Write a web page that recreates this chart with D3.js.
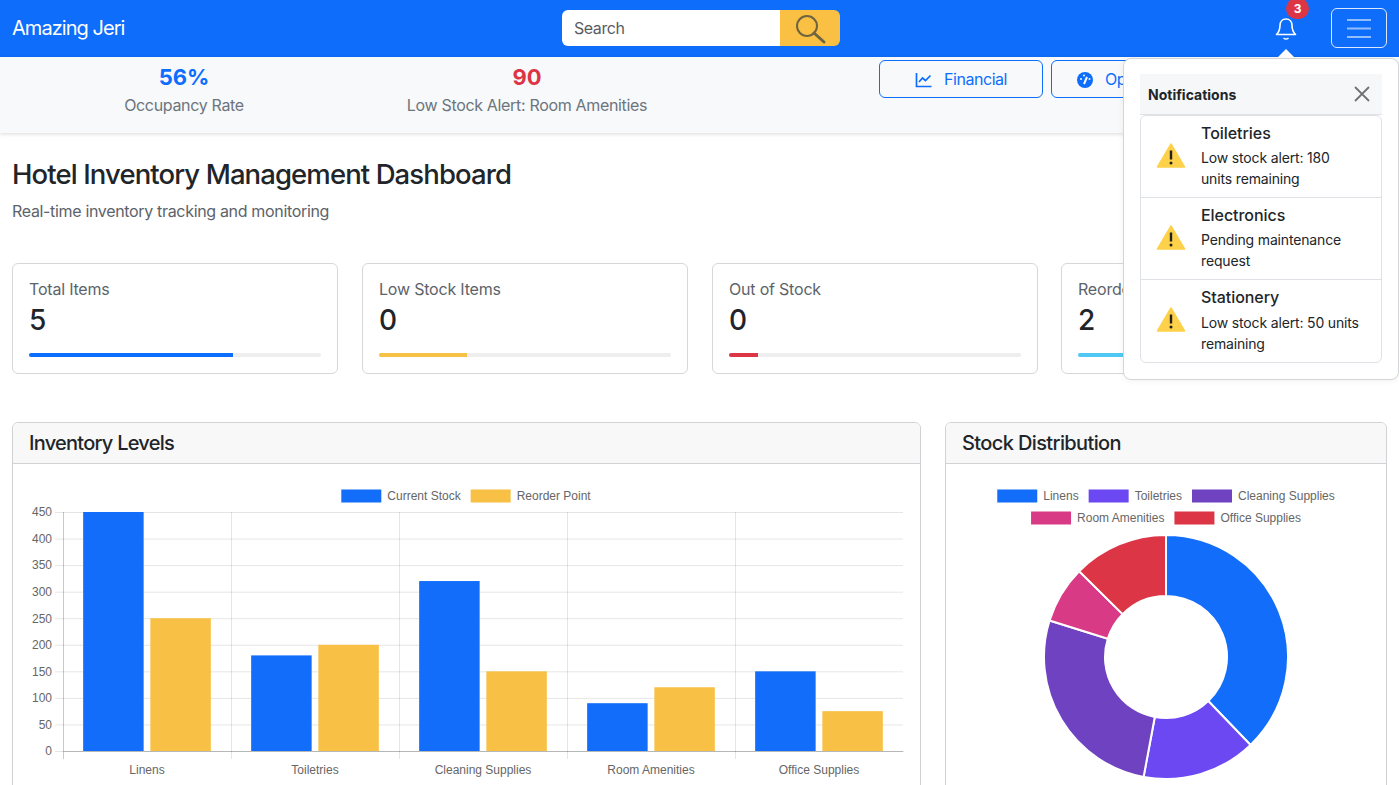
<!DOCTYPE html>
<html>
<head>
<meta charset="utf-8">
<title>Hotel Inventory Management Dashboard</title>
<script src="https://cdn.jsdelivr.net/npm/d3@7"></script>
<style>
* { box-sizing: border-box; }
html, body { margin: 0; height: 100%; overflow: hidden; background: #fff; }
body { font-family: Inter, "Noto Sans", sans-serif; color: #212529; position: relative; width: 1399px; height: 785px; }
.abs { position: absolute; }
#nav { left: 0; top: 0; width: 1399px; height: 57px; background: #0f6dfb; }
#brand { left: 12px; top: 16px; font-size: 20px; line-height: 24px; color: #fff; letter-spacing: -0.95px; }
#search { left: 562px; top: 10px; width: 218px; height: 36px; background: #fff; border-radius: 6px 0 0 6px; padding: 6px 12px; font-size: 16px; line-height: 24px; color: #595c5f; letter-spacing: -0.45px; }
#searchBtn { left: 780px; top: 10px; width: 60px; height: 36px; background: #f9c043; border-radius: 0 6px 6px 0; }
#badge { left: 1286px; top: -2px; width: 23px; height: 21px; border-radius: 11px; background: #dc3545; color: #fff; font-size: 12px; font-weight: 700; text-align: center; line-height: 21px; }
#burger { left: 1331px; top: 8px; width: 56px; height: 40px; border: 1px solid rgba(255,255,255,.85); border-radius: 6px; }
#sub { left: 0; top: 57px; width: 1399px; height: 76px; background: #f8f9fa; box-shadow: 0 1px 4px rgba(0,0,0,.15); }
.stat { width: 340px; text-align: center; }
.stat .v { font-size: 22px; font-weight: 700; line-height: 26px; }
.stat .l { font-size: 16px; line-height: 24px; color: #6c757d; margin-top: 3px; letter-spacing: -0.33px; }
.btn { top: 60px; height: 38px; border: 1px solid #0d6efd; border-radius: 6px; color: #0d6efd; font-size: 16px; line-height: 36px; background: transparent; white-space: nowrap; letter-spacing: -0.45px; }
h1 { margin: 0; left: 12px; top: 157px; font-size: 27.5px; line-height: 34px; font-weight: 500; letter-spacing: -0.9px; }
#tag { left: 12px; top: 199px; font-size: 16px; line-height: 24px; color: #5c636a; letter-spacing: -0.33px; }
.card { top: 263px; width: 326px; height: 111px; border: 1px solid #d5d7da; border-radius: 6px; background: #fff; }
.card .t { position: absolute; left: 16px; top: 13px; font-size: 16px; line-height: 24px; color: #5c636a; white-space: nowrap; letter-spacing: -0.2px; }
.card .n { position: absolute; left: 16px; top: 39px; font-size: 28px; line-height: 34px; font-weight: 500; }
.card .track { position: absolute; left: 16px; top: 89px; width: 292px; height: 4px; border-radius: 2px; background: #eeeeee; overflow: hidden; }
.card .fill { height: 100%; }
.panel { top: 422px; height: 400px; border: 1px solid #d0d2d5; border-radius: 6px; background: #fff; overflow: hidden; }
.panel .hd { height: 41px; background: #f8f8f8; border-bottom: 1px solid #d0d2d5; padding: 0 16px; font-size: 20px; line-height: 40px; font-weight: 500; letter-spacing: -0.62px; }
#charts { left: 0; top: 0; width: 1399px; height: 785px; pointer-events: none; }
#pop { left: 1123px; top: 58px; width: 276px; height: 322px; background: #fff; border: 1px solid #d3d5d8; border-radius: 8px; box-shadow: 0 1px 6px rgba(0,0,0,.06); }
#popHd { left: 16px; top: 15px; width: 242px; height: 41px; background: #f6f7f8; border-bottom: 1px solid #e0e2e5; padding-left: 8px; font-size: 14px; font-weight: 700; line-height: 41px; }
#list { left: 16px; top: 56px; width: 242px; height: 248px; border: 1px solid #dee2e6; border-radius: 6px; }
.item { position: relative; height: 82px; border-bottom: 1px solid #dee2e6; }
.item:last-child { border-bottom: 0; }
.item .t { position: absolute; left: 60px; top: 5px; font-size: 16px; line-height: 24px; font-weight: 500; white-space: nowrap; letter-spacing: -0.05px; }
.item .m { position: absolute; left: 60px; top: 31px; width: 160px; font-size: 14px; line-height: 21px; letter-spacing: -0.16px; }
.item:last-child .m { top: 32px; }
.item svg { position: absolute; left: 15px; top: 26px; }
</style>
</head>
<body>
<div id="root"></div>
<script>
var categories = ['Linens', 'Toiletries', 'Cleaning Supplies', 'Room Amenities', 'Office Supplies']
var currentStock = [450, 180, 320, 90, 150]
var reorderPoint = [250, 200, 150, 120, 75]
var barSeries = ['Current Stock', 'Reorder Point']
var barColors = ['#116dfa', '#f8c045']
var donutColors = ['#116dfa', '#6b48f2', '#6f42c1', '#d83a85', '#dc3545']
var yTicks = [0, 50, 100, 150, 200, 250, 300, 350, 400, 450]

var cardTitles = ['Total Items', 'Low Stock Items', 'Out of Stock', 'Reorder Items']
var cardValues = [5, 0, 0, 2]
var cardProgress = [70, 30, 10, 30]
var cardColors = ['#0d6efd', '#f8c045', '#dc3545', '#4fc8f5']
var noteTitles = ['Toiletries', 'Electronics', 'Stationery']
var noteTexts = ['Low stock alert: 180 units remaining', 'Pending maintenance request', 'Low stock alert: 50 units remaining']

var root = d3.select('#root')

function box(parent, id, cls) {
    var d = parent.append('div').attr('class', 'abs ' + (cls || ''))
    if (id) d.attr('id', id)
    return d
}

// top bar
box(root, 'nav')
box(root, 'brand').text('Amazing Jeri')
box(root, 'search').text('Search')
var sb = box(root, 'searchBtn').append('svg').attr('width', 60).attr('height', 36)
sb.append('circle').attr('cx', 27).attr('cy', 16).attr('r', 10).attr('fill', 'none').attr('stroke', '#6f6440').attr('stroke-width', 2)
sb.append('line').attr('x1', 34).attr('y1', 23).attr('x2', 44).attr('y2', 32).attr('stroke', '#6f6440').attr('stroke-width', 3).attr('stroke-linecap', 'round')

var bell = root.append('svg').attr('class', 'abs').style('left', '1275px').style('top', '17px').attr('width', 22).attr('height', 24)
bell.append('path').attr('d', 'M11 2c-4 0-6 3-6 6.5 0 4-1 6.5-3.5 9h19c-2.500-2.500-3.500-5-3.500-9C17 5 15 2 11 2z').attr('fill', 'none').attr('stroke', '#fff').attr('stroke-width', 1.600).attr('stroke-linejoin', 'round')
bell.append('path').attr('d', 'M8.500 21c1.500 1.300 3.500 1.300 5 0').attr('fill', 'none').attr('stroke', '#fff').attr('stroke-width', 1.400)
box(root, 'badge').text('3')

var burger = box(root, 'burger').append('svg').attr('width', 54).attr('height', 38)
d3.range(3).forEach(function (i) {
    burger.append('line').attr('x1', 15).attr('x2', 39).attr('y1', 11 + i * 8.500).attr('y2', 11 + i * 8.500)
        .attr('stroke', 'rgba(255,255,255,.55)').attr('stroke-width', 2)
})

// sub bar
box(root, 'sub')
var stats = [['56%', 'Occupancy Rate', '#0d6efd', 14], ['90', 'Low Stock Alert: Room Amenities', '#dc3545', 357]]
stats.forEach(function (s) {
    var st = box(root, null, 'stat').style('left', s[3] + 'px').style('top', '64px')
    st.append('div').attr('class', 'v').style('color', s[2]).text(s[0])
    st.append('div').attr('class', 'l').text(s[1])
})
var b1 = box(root, null, 'btn').style('left', '879px').style('width', '164px')
b1.append('svg').attr('width', 18).attr('height', 16).style('position', 'absolute').style('left', '35px').style('top', '11px')
    .append('path').attr('d', 'M1.500 1v13.500h15M4 10l3.500-4 3 2.500 5-5').attr('fill', 'none').attr('stroke', '#0d6efd').attr('stroke-width', 1.700)
b1.append('span').style('position', 'absolute').style('left', '64px').text('Financial')
var b2 = box(root, null, 'btn').style('left', '1051px').style('width', '164px')
var g2 = b2.append('svg').attr('width', 18).attr('height', 18).style('position', 'absolute').style('left', '24px').style('top', '10px')
g2.append('circle').attr('cx', 9).attr('cy', 9).attr('r', 8).attr('fill', '#0d6efd')
g2.append('line').attr('x1', 8).attr('y1', 13).attr('x2', 11).attr('y2', 6).attr('stroke', '#f8f9fa').attr('stroke-width', 2)
g2.append('circle').attr('cx', 5).attr('cy', 8).attr('r', 1).attr('fill', '#f8f9fa')
g2.append('circle').attr('cx', 8).attr('cy', 4.500).attr('r', 1).attr('fill', '#f8f9fa')
g2.append('circle').attr('cx', 13.500).attr('cy', 8).attr('r', 1).attr('fill', '#f8f9fa')
b2.append('span').style('position', 'absolute').style('left', '53px').text('Operations')

// headings
root.append('h1').attr('class', 'abs').text('Hotel Inventory Management Dashboard')
box(root, 'tag').text('Real-time inventory tracking and monitoring')

// summary cards
var cardLeft = [12, 362, 712, 1061]
cardTitles.forEach(function (t, i) {
    var c = box(root, null, 'card').style('left', cardLeft[i] + 'px')
    c.append('div').attr('class', 't').text(t)
    c.append('div').attr('class', 'n').text(cardValues[i])
    c.append('div').attr('class', 'track').append('div').attr('class', 'fill')
        .style('width', cardProgress[i] + '%').style('background', cardColors[i])
})

// chart panels
box(root, null, 'panel').style('left', '12px').style('width', '909px').append('div').attr('class', 'hd').style('letter-spacing', '-0.75px').text('Inventory Levels')
box(root, null, 'panel').style('left', '945px').style('width', '442px').append('div').attr('class', 'hd').text('Stock Distribution')

var svg = root.append('svg').attr('id', 'charts').attr('class', 'abs').attr('width', 1399).attr('height', 785)
var labelFont = '"Liberation Sans", Arial, sans-serif'

function legend(rows, colors, startY) {
    // centered rows in the chart.js way: 40px swatch, 6px gap, label
    var k = 0
    rows.forEach(function (row, r) {
        var y = startY + r * 22
        var g = svg.append('g').attr('font-family', labelFont).attr('font-size', 12).attr('fill', '#666')
        var x = 0
        row.items.forEach(function (name) {
            var c = colors[k++]
            g.append('rect').attr('x', x).attr('y', y - 6.500).attr('width', 40).attr('height', 13).attr('fill', c)
            var tx = g.append('text').attr('x', x + 46).attr('y', y + 4).text(name)
            x += 46 + tx.node().getComputedTextLength() + 10
        })
        g.attr('transform', 'translate(' + (row.center - (x - 10) / 2) + ',0)')
    })
}

// bar chart
var x0 = d3.scaleBand().domain(categories).range([63, 903])
var x1 = d3.scaleBand().domain(barSeries).range([x0.bandwidth() * 0.1, x0.bandwidth() * 0.9])
var y = d3.scaleLinear().domain([0, 450]).range([751, 512])
var barWidth = x1.bandwidth() * 0.9

var gridY = d3.axisLeft(y).tickValues(yTicks).tickSize(8).tickPadding(3)
var yAxis = svg.append('g').attr('transform', 'translate(63,0)').call(gridY)
yAxis.select('.domain').remove()
yAxis.selectAll('.tick line').attr('stroke', 'rgba(0,0,0,.1)')
yAxis.selectAll('.tick').append('line').attr('x1', 0).attr('x2', 840).attr('stroke', 'rgba(0,0,0,.1)')
yAxis.selectAll('.tick text').attr('font-family', labelFont).attr('font-size', 12).attr('fill', '#666')

var xAxis = svg.append('g').attr('transform', 'translate(0,751)').call(d3.axisBottom(x0).tickSize(0).tickPadding(14))
xAxis.select('.domain').attr('stroke', 'rgba(0,0,0,.2)')
xAxis.selectAll('.tick text').attr('font-family', labelFont).attr('font-size', 12).attr('fill', '#666')
svg.selectAll('.vgrid').data(categories).enter().append('line').attr('class', 'vgrid')
    .attr('x1', function (d) { return x0(d) + 0.5 }).attr('x2', function (d) { return x0(d) + 0.5 })
    .attr('y1', y(450)).attr('y2', y(0) + 8).attr('stroke', 'rgba(0,0,0,.1)')
svg.append('line').attr('x1', x0.range()[0] + 0.5).attr('x2', x0.range()[0] + 0.5).attr('y1', y(450)).attr('y2', y(0) + 8).attr('stroke', 'rgba(0,0,0,.12)')

;[currentStock, reorderPoint].forEach(function (values, s) {
    svg.append('g').selectAll('rect').data(values).enter().append('rect')
        .attr('x', function (d, i) { return x0(categories[i]) + x1(barSeries[s]) + (x1.bandwidth() - barWidth) / 2 })
        .attr('y', function (d) { return y(d) })
        .attr('width', barWidth)
        .attr('height', function (d) { return y(0) - y(d) })
        .attr('fill', barColors[s])
})

legend([{ center: 466, items: barSeries }], barColors, 496)

// donut
legend([
    { center: 1166, items: categories.slice(0, 3) },
    { center: 1166, items: categories.slice(3) }
], donutColors, 496)

var pie = d3.pie().sort(null)(currentStock)
var arc = d3.arc().innerRadius(61).outerRadius(122)
svg.append('g').attr('transform', 'translate(1166,657)').selectAll('path').data(pie).enter().append('path')
    .attr('d', arc).attr('fill', function (d, i) { return donutColors[i] })
    .attr('stroke', '#fff').attr('stroke-width', 2)

// notifications popover
var arrow = root.append('svg').attr('class', 'abs').style('left', '1276px').style('top', '49px').attr('width', 20).attr('height', 11)
arrow.append('path').attr('d', 'M0 10L10 0L20 10').attr('fill', '#fff')
var pop = box(root, 'pop')
var hd = box(pop, 'popHd').text('Notifications')
var closeX = hd.append('svg').attr('width', 16).attr('height', 16).style('position', 'absolute').style('right', '12px').style('top', '12px')
closeX.append('path').attr('d', 'M1 1L15 15M15 1L1 15').attr('stroke', '#6f7276').attr('stroke-width', 1.800)
var list = box(pop, 'list')
noteTitles.forEach(function (t, i) {
    var it = list.append('div').attr('class', 'item')
    var w = it.append('svg').attr('width', 30).attr('height', 28)
    w.append('path').attr('d', 'M15 2L28.500 25H1.500Z').attr('fill', '#fdd14a').attr('stroke', '#fdd14a').attr('stroke-width', 1.500).attr('stroke-linejoin', 'round')
    w.append('rect').attr('x', 13.800).attr('y', 8.500).attr('width', 2.400).attr('height', 9).attr('fill', '#222')
    w.append('circle').attr('cx', 15).attr('cy', 21).attr('r', 1.500).attr('fill', '#222')
    it.append('div').attr('class', 't').text(t)
    it.append('div').attr('class', 'm').text(noteTexts[i])
})
</script>
</body>
</html>
